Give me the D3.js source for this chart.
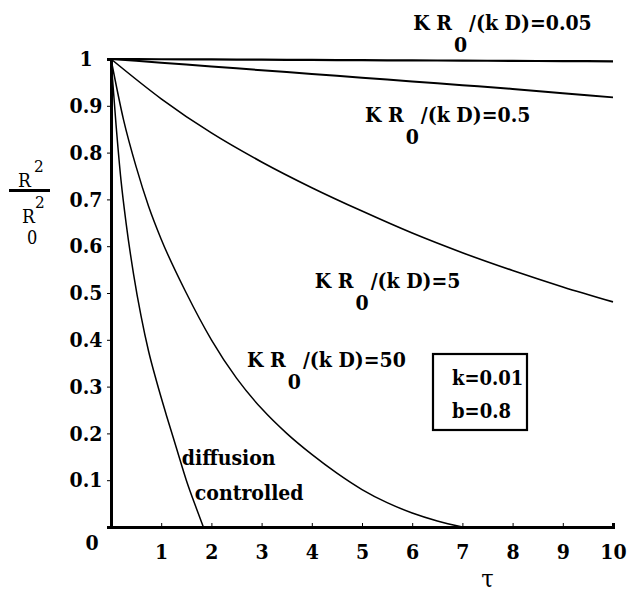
<!DOCTYPE html>
<html lang="en">
  <head>
    <meta charset="UTF-8" />
    <title>R^2/R0^2 vs tau</title>
    <script src="https://d3js.org/d3.v7.min.js"></script>
    <style>
      body { margin: 0; background: #fff; }
      svg text { fill: #000; }
    </style>
  </head>
  <body>
    <div class="chart"></div>
  </body>

  <script>
    // curve values: [tau, R^2/R0^2]
    var curve005 = [[0, 1], [1, 0.9995], [2, 0.999], [3, 0.9985], [4, 0.998], [5, 0.9975],
      [6, 0.997], [7, 0.9965], [8, 0.996], [9, 0.9955], [10, 0.995]];
    var curve05 = [[0, 1], [1, 0.992], [2, 0.984], [3, 0.976], [4, 0.968], [5, 0.96],
      [6, 0.952], [7, 0.944], [8, 0.936], [9, 0.927], [10, 0.918]];
    var curve5 = [[0, 1], [1, 0.915], [2, 0.842], [3, 0.78], [4, 0.725], [5, 0.675],
      [6, 0.628], [7, 0.586], [8, 0.548], [9, 0.513], [10, 0.481]];
    var curve50 = [[0, 1], [0.25, 0.87], [0.5, 0.77], [0.75, 0.685], [1, 0.615], [1.5, 0.5],
      [2, 0.4], [2.5, 0.318], [3, 0.253], [3.5, 0.2], [4, 0.155], [4.5, 0.115], [5, 0.08],
      [5.5, 0.052], [6, 0.03], [6.5, 0.013], [7, 0]];
    var curveDiff = [[0, 1], [0.1, 0.86], [0.2, 0.74], [0.3, 0.65], [0.45, 0.54], [0.6, 0.45],
      [0.75, 0.375], [0.9, 0.314], [1.1, 0.24], [1.3, 0.17], [1.5, 0.1], [1.7, 0.04], [1.84, 0]];

    var xTicks = [1, 2, 3, 4, 5, 6, 7, 8, 9, 10];
    var yTicks = [0.1, 0.2, 0.3, 0.4, 0.5, 0.6, 0.7, 0.8, 0.9, 1];

    // curve labels: tail text after "K R0", anchored at [tau, value]
    var curveLabels = [
      { tail: "/(k D)=0.05", at: [6.02, 1.062] },
      { tail: "/(k D)=0.5", at: [5.06, 0.865] },
      { tail: "/(k D)=5", at: [4.06, 0.511] },
      { tail: "/(k D)=50", at: [2.71, 0.342] }
    ];
    var legendLines = ["k=0.01", "b=0.8"];

    var W = 633, H = 593;
    var margin = { top: 59, right: 20, bottom: 66, left: 111 };
    var FONT = "'DejaVu Serif Condensed', 'DejaVu Serif', 'Liberation Serif', serif";

    var svg = d3
      .select(".chart")
      .append("svg")
      .attr("width", W)
      .attr("height", H)
      .style("font-family", FONT);

    var x = d3.scaleLinear().domain([0, 10]).range([margin.left, 613]);
    var y = d3.scaleLinear().domain([0, 1]).range([H - margin.bottom, margin.top]);

    // axes
    var xAxis = d3.axisBottom(x).tickValues(xTicks).tickSize(-4).tickPadding(17)
      .tickFormat(d3.format("d"));
    var gx = svg.append("g").attr("transform", `translate(0, ${y(0)})`).call(xAxis);

    var yAxis = d3.axisLeft(y).tickValues(yTicks).tickSize(4).tickPadding(10)
      .tickFormat((d) => (d === 1 ? "1" : d.toFixed(1)));
    var gy = svg.append("g").attr("transform", `translate(${x(0)}, 0)`).call(yAxis);

    [gx, gy].forEach(function (g) {
      g.attr("font-family", null).style("font-family", FONT);
      g.select(".domain").attr("stroke", "#000").attr("stroke-width", 3);
      g.selectAll(".tick line").attr("stroke", "#000").attr("stroke-width", 1);
      g.selectAll(".tick text")
        .style("font-family", FONT)
        .attr("font-weight", "bold")
        .attr("font-size", 21);
    });
    gy.selectAll(".tick text").attr("text-anchor", "middle").attr("x", -25);

    svg.append("text")
      .attr("x", x(0) - 19).attr("y", y(0) + 23)
      .attr("text-anchor", "middle")
      .attr("font-weight", "bold").attr("font-size", 21)
      .text("0");

    svg.append("text")
      .attr("x", x(7.5)).attr("y", y(0) + 60)
      .attr("text-anchor", "middle")
      .attr("font-size", 25)
      .text("τ");

    // y label: R^2 / R0^2
    var yl = svg.append("g").attr("font-size", 19);
    yl.append("line").attr("x1", 9).attr("x2", 50).attr("y1", 190.5).attr("y2", 190.5)
      .attr("stroke", "#000").attr("stroke-width", 3);
    yl.append("text").attr("x", 18).attr("y", 187).text("R");
    yl.append("text").attr("x", 34).attr("y", 172).attr("font-size", 17).text("2");
    yl.append("text").attr("x", 22).attr("y", 223).text("R");
    yl.append("text").attr("x", 35).attr("y", 208).attr("font-size", 17).text("2");
    yl.append("text").attr("x", 27).attr("y", 244).attr("font-size", 18).text("0");

    // curves
    var line = d3.line()
      .x((d) => x(d[0]))
      .y((d) => y(d[1]))
      .curve(d3.curveMonotoneX);

    var curves = [
      { data: curve005, w: 2.2 },
      { data: curve05, w: 2 },
      { data: curve5, w: 1.6 },
      { data: curve50, w: 1.5 },
      { data: curveDiff, w: 1.5 }
    ];
    svg.selectAll("path.curve")
      .data(curves)
      .join("path")
      .attr("class", "curve")
      .attr("fill", "none")
      .attr("stroke", "#000")
      .attr("stroke-width", (d) => d.w)
      .attr("d", (d) => line(d.data));

    // curve labels
    curveLabels.forEach(function (lab) {
      var t = svg.append("text")
        .attr("x", x(lab.at[0])).attr("y", y(lab.at[1]))
        .attr("font-weight", "bold").attr("font-size", 21);
      t.append("tspan").text("K R");
      t.append("tspan").attr("dx", 2).attr("dy", 22).text("0");
      t.append("tspan").attr("dx", 2).attr("dy", -22).text(lab.tail);
    });

    svg.append("text").attr("x", x(1.41)).attr("y", y(0.132))
      .attr("font-weight", "bold").attr("font-size", 21).text("diffusion");
    svg.append("text").attr("x", x(1.67)).attr("y", y(0.058))
      .attr("font-weight", "bold").attr("font-size", 21).text("controlled");

    // parameter box
    var box = svg.append("g");
    box.append("rect")
      .attr("x", 433).attr("y", 354).attr("width", 94).attr("height", 76)
      .attr("fill", "none").attr("stroke", "#000").attr("stroke-width", 2.2);
    box.selectAll("text")
      .data(legendLines)
      .join("text")
      .attr("x", 452)
      .attr("y", (d, i) => 385 + i * 33)
      .attr("font-weight", "bold").attr("font-size", 20)
      .text((d) => d);
  </script>
</html>
